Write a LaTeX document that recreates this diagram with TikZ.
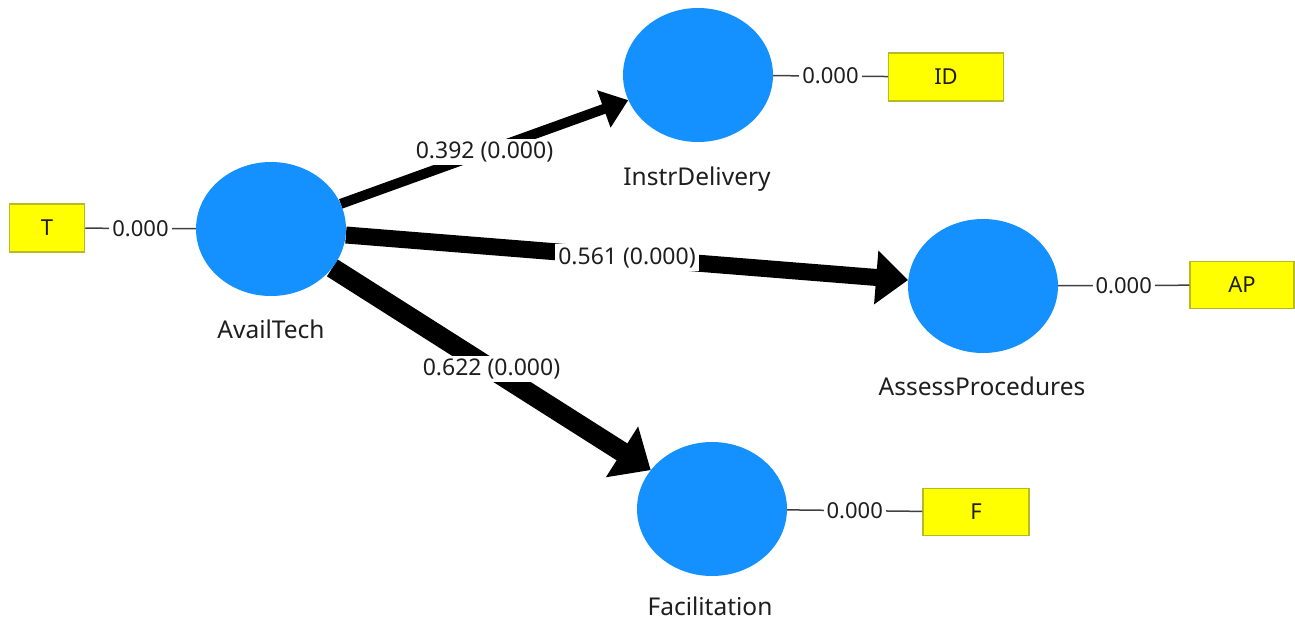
\documentclass[tikz,border=0pt]{standalone}
\usepackage{fontspec}
\setmainfont{Noto Sans}
\usetikzlibrary{shapes.geometric,arrows.meta,backgrounds}
\definecolor{lvblue}{RGB}{20,145,255}
\definecolor{mvyellow}{RGB}{255,255,0}
\definecolor{mvedge}{RGB}{185,185,40}
\definecolor{txt}{RGB}{30,30,30}
\begin{document}
\begin{tikzpicture}[x=1pt,y=-1pt,
  latent/.style={ellipse, fill=lvblue, draw=none, minimum width=150pt, minimum height=134pt, inner sep=0pt},
  indicator/.style={rectangle, fill=mvyellow, draw=mvedge, line width=1.5pt, inner sep=0pt,
    font=\fontsize{22}{26}\selectfont, text=txt},
  caption/.style={anchor=base, inner sep=0pt, font=\fontsize{24.5}{28}\selectfont, text=txt},
  loading/.style={draw=black!75, line width=1.5pt},
  loadval/.style={fill=white, inner sep=3pt, font=\fontsize{22}{26}\selectfont, text=txt},
  structw/.style={draw=black, line width=#1},
  pathval/.style={fill=white, inner sep=3pt, font=\fontsize{23}{27}\selectfont, text=txt}]
\useasboundingbox (0,0) rectangle (1295,621);

% latent variables
\node[latent] (avail)  at (271,229) {};
\node[latent] (instr)  at (698,75)  {};
\node[latent] (assess) at (983,286) {};
\node[latent] (facil)  at (712,509) {};

% their names
\node[caption] (availname)  at (271,338) {AvailTech};
\node[caption] (instrname)  at (697,185) {InstrDelivery};
\node[caption] (assessname) at (982,395) {AssessProcedures};
\node[caption] (facilname)  at (710,615) {Facilitation};

% indicators
\node[indicator, minimum width=75pt,  minimum height=48pt] (T)  at (47,228)   {T};
\node[indicator, minimum width=115pt, minimum height=48pt] (ID) at (946,77)   {ID};
\node[indicator, minimum width=104pt, minimum height=47pt] (AP) at (1242,285) {AP};
\node[indicator, minimum width=106pt, minimum height=47pt] (F)  at (976,512)  {F};

% outer loadings
\draw[loading] (T) -- node[loadval] {0.000} (avail);
\draw[loading] (instr) -- node[loadval] {0.000} (ID);
\draw[loading] (assess) -- node[loadval] {0.000} (AP);
\draw[loading] (facil) -- node[loadval] {0.000} (F);

% structural paths
\begin{scope}[on background layer]
\draw[structw=10pt, -{Triangle[length=26pt,width=38pt]}]
  (avail) -- node[pathval] {0.392 (0.000)} (instr);
\draw[structw=17pt, -{Triangle[length=32pt,width=52pt]}]
  (avail) -- node[pathval] {0.561 (0.000)} (assess);
\draw[structw=20pt, -{Triangle[length=34pt,width=58pt]}]
  (avail) -- node[pathval] {0.622 (0.000)} (facil);
\end{scope}
\end{tikzpicture}
\end{document}
